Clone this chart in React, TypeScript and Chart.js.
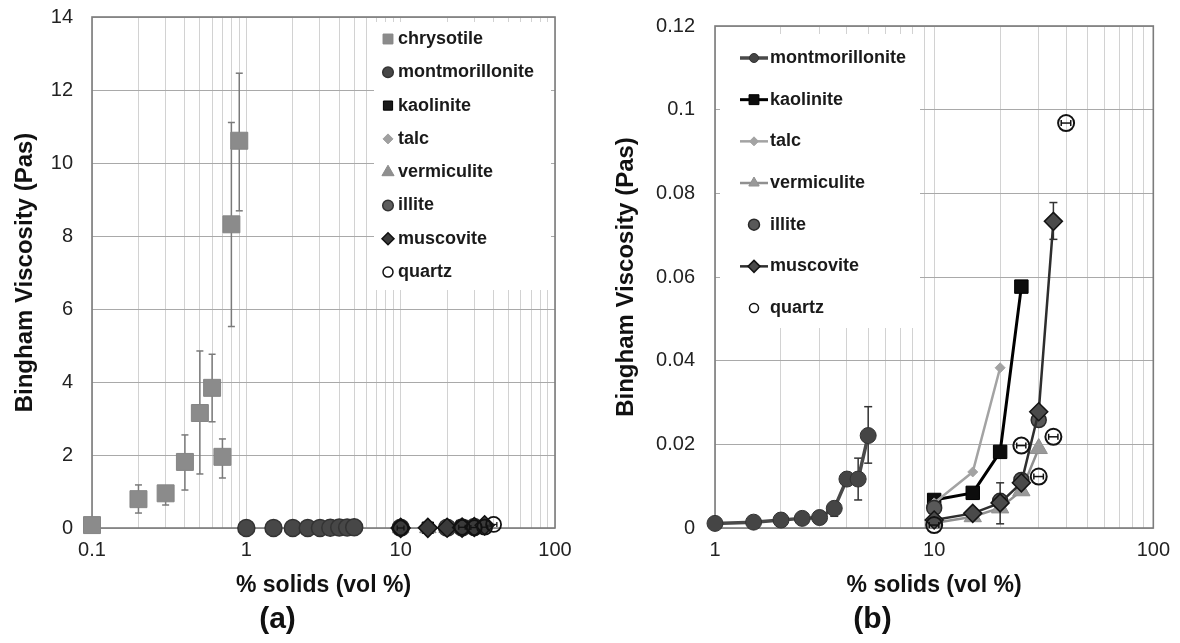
import React, { useEffect, useRef } from 'react';
import { Chart, registerables } from 'chart.js';
import { drawPoint } from 'chart.js/helpers';

Chart.register(...registerables);

const FONT = "'Liberation Sans', Arial, Helvetica, sans-serif";
Chart.defaults.font.family = FONT;

// ---- Measured Bingham viscosity (Pa·s) against solids loading (vol %) ----
const CHRYSOTILE_X = [0.1, 0.2, 0.3, 0.4, 0.5, 0.6, 0.7, 0.8, 0.9];
const CHRYSOTILE_Y = [0.08, 0.79, 0.95, 1.81, 3.15, 3.84, 1.95, 8.32, 10.61];
const CHRYSOTILE_LO = [null, 0.41, 0.63, 1.04, 1.48, 2.91, 1.37, 5.52, 8.69];
const CHRYSOTILE_HI = [null, 1.18, 1.0, 2.55, 4.85, 4.76, 2.44, 11.11, 12.46];

const MONT_X = [1, 1.5, 2, 2.5, 3, 3.5, 4, 4.5, 5];
const MONT_Y = [0.0011, 0.0014, 0.0019, 0.0023, 0.0025, 0.0047, 0.0117, 0.0117, 0.0221];
const MONT_LO = [null, null, null, null, null, 0.0028, null, 0.0067, 0.0155];
const MONT_HI = [null, null, null, null, null, 0.0058, null, 0.0167, 0.029];

const KAOL_X = [10, 15, 20, 25];
const KAOL_Y = [0.0067, 0.0084, 0.0182, 0.0577];

const TALC_X = [10, 15, 20];
const TALC_Y = [0.006, 0.0134, 0.0383];

const VERM_X = [10, 15, 20, 25, 30];
const VERM_Y = [0.0012, 0.0027, 0.0048, 0.0089, 0.019];

const ILLITE_X = [10, 20, 25, 30];
const ILLITE_Y = [0.0048, 0.0065, 0.0115, 0.0258];
const ILLITE_LO = [null, 0.001, null, null];
const ILLITE_HI = [null, 0.0108, null, null];

const MUSC_X = [10, 15, 20, 25, 30, 35];
const MUSC_Y = [0.0019, 0.0035, 0.006, 0.0108, 0.0278, 0.0733];
const MUSC_LO = [null, null, null, null, null, 0.069];
const MUSC_HI = [null, null, null, null, null, 0.0778];

const QUARTZ_X = [10, 25, 30, 35, 40];
const QUARTZ_Y = [0.0007, 0.0197, 0.0123, 0.0218, 0.0968];
const QUARTZ_XLO = [9.5, 23.8, 28.5, 33.3, 38];
const QUARTZ_XHI = [10.5, 26.2, 31.5, 36.7, 42];

// ---- Axis ticks ----
const X_GRID_A = [0.1, 0.2, 0.3, 0.4, 0.5, 0.6, 0.7, 0.8, 0.9, 1, 2, 3, 4, 5, 6, 7, 8, 9, 10, 20, 30, 40, 50, 60, 70, 80, 90, 100];
const X_LABELS_A = [0.1, 1, 10, 100];
const X_GRID_B = [1, 2, 3, 4, 5, 6, 7, 8, 9, 10, 20, 30, 40, 50, 60, 70, 80, 90, 100];
const X_LABELS_B = [1, 10, 100];
const Y_TICKS_A = [0, 2, 4, 6, 8, 10, 12, 14];
const Y_TICKS_B = [0, 0.02, 0.04, 0.06, 0.08, 0.1, 0.12];

type Val = number | null;
type Series = {
  key: string;
  label: string;
  xs: number[];
  ys: number[];
  lo?: Val[];
  hi?: Val[];
  xlo?: number[];
  xhi?: number[];
};

const SERIES: Record<string, Series> = {
  chrysotile: { key: 'chrysotile', label: 'chrysotile', xs: CHRYSOTILE_X, ys: CHRYSOTILE_Y, lo: CHRYSOTILE_LO, hi: CHRYSOTILE_HI },
  montmorillonite: { key: 'montmorillonite', label: 'montmorillonite', xs: MONT_X, ys: MONT_Y, lo: MONT_LO, hi: MONT_HI },
  kaolinite: { key: 'kaolinite', label: 'kaolinite', xs: KAOL_X, ys: KAOL_Y },
  talc: { key: 'talc', label: 'talc', xs: TALC_X, ys: TALC_Y },
  vermiculite: { key: 'vermiculite', label: 'vermiculite', xs: VERM_X, ys: VERM_Y },
  illite: { key: 'illite', label: 'illite', xs: ILLITE_X, ys: ILLITE_Y, lo: ILLITE_LO, hi: ILLITE_HI },
  muscovite: { key: 'muscovite', label: 'muscovite', xs: MUSC_X, ys: MUSC_Y, lo: MUSC_LO, hi: MUSC_HI },
  quartz: { key: 'quartz', label: 'quartz', xs: QUARTZ_X, ys: QUARTZ_Y, xlo: QUARTZ_XLO, xhi: QUARTZ_XHI },
};

const PANEL_A_KEYS = ['chrysotile', 'montmorillonite', 'kaolinite', 'talc', 'vermiculite', 'illite', 'muscovite', 'quartz'];
const PANEL_B_KEYS = ['montmorillonite', 'kaolinite', 'talc', 'vermiculite', 'illite', 'muscovite', 'quartz'];

type MarkStyle = {
  shape: string;
  radius: number;
  fill: string;
  border: string;
  borderWidth: number;
  line?: string;
  lineWidth?: number;
  errColor: string;
  errWidth: number;
  capRadius: number;
  legendRadius: number;
};

const OPEN = 'rgba(255,255,255,0)';

const STYLE_A: Record<string, MarkStyle> = {
  chrysotile: { shape: 'rect', radius: 12, fill: '#8b8b8b', border: '#858585', borderWidth: 1, errColor: '#7a7a7a', errWidth: 1.5, capRadius: 3.5, legendRadius: 7 },
  montmorillonite: { shape: 'circle', radius: 8.5, fill: '#474747', border: '#333333', borderWidth: 1.5, errColor: '#444', errWidth: 1.5, capRadius: 3.5, legendRadius: 5.3 },
  kaolinite: { shape: 'rect', radius: 8, fill: '#1a1a1a', border: '#000000', borderWidth: 1, errColor: '#444', errWidth: 1.5, capRadius: 3.5, legendRadius: 6.5 },
  talc: { shape: 'rectRot', radius: 6, fill: '#a0a0a0', border: '#a0a0a0', borderWidth: 1, errColor: '#444', errWidth: 1.5, capRadius: 3.5, legendRadius: 5 },
  vermiculite: { shape: 'triangle', radius: 9.5, fill: '#8f8f8f', border: '#8a8a8a', borderWidth: 1, errColor: '#444', errWidth: 1.5, capRadius: 3.5, legendRadius: 7 },
  illite: { shape: 'circle', radius: 8.5, fill: '#5e5e5e', border: '#333333', borderWidth: 1.5, errColor: '#444', errWidth: 1.5, capRadius: 3.5, legendRadius: 5.3 },
  muscovite: { shape: 'rectRot', radius: 9.5, fill: '#3a3a3a', border: '#111111', borderWidth: 1.5, errColor: '#444', errWidth: 1.5, capRadius: 3.5, legendRadius: 6 },
  quartz: { shape: 'circle', radius: 7.5, fill: OPEN, border: '#111111', borderWidth: 1.8, errColor: '#111', errWidth: 1.3, capRadius: 2.5, legendRadius: 5 },
};

const STYLE_B: Record<string, MarkStyle> = {
  montmorillonite: { shape: 'circle', radius: 8, fill: '#454545', border: '#333333', borderWidth: 1, line: '#4a4a4a', lineWidth: 3.5, errColor: '#333', errWidth: 1.5, capRadius: 4, legendRadius: 4.5 },
  kaolinite: { shape: 'rect', radius: 9.5, fill: '#0d0d0d', border: '#000000', borderWidth: 1, line: '#000000', lineWidth: 3, errColor: '#333', errWidth: 1.5, capRadius: 4, legendRadius: 7 },
  talc: { shape: 'rectRot', radius: 5, fill: '#a3a3a3', border: '#a3a3a3', borderWidth: 1, line: '#a3a3a3', lineWidth: 2.5, errColor: '#333', errWidth: 1.5, capRadius: 4, legendRadius: 4.5 },
  vermiculite: { shape: 'triangle', radius: 10, fill: '#999999', border: '#909090', borderWidth: 1, line: '#909090', lineWidth: 2.5, errColor: '#333', errWidth: 1.5, capRadius: 4, legendRadius: 6 },
  illite: { shape: 'circle', radius: 7.5, fill: '#595959', border: '#2a2a2a', borderWidth: 1.5, errColor: '#333', errWidth: 1.5, capRadius: 4, legendRadius: 5.5 },
  muscovite: { shape: 'rectRot', radius: 9, fill: '#4a4a4a', border: '#141414', borderWidth: 1.5, line: '#2e2e2e', lineWidth: 2.5, errColor: '#333', errWidth: 1.5, capRadius: 4, legendRadius: 6 },
  quartz: { shape: 'circle', radius: 8, fill: OPEN, border: '#111111', borderWidth: 2, errColor: '#111', errWidth: 1.5, capRadius: 3, legendRadius: 4.5 },
};

// Each series is stacked above the previous one; its error bars sit just beneath it.
function buildDatasets(keys: string[], styles: Record<string, MarkStyle>) {
  const out: any[] = [];
  keys.forEach((key, i) => {
    const s = SERIES[key];
    const st = styles[key];
    const base = 100 - 3 * i;
    out.push({
      label: s.label,
      data: s.xs.map((x, j) => ({ x, y: s.ys[j] })),
      showLine: !!st.line,
      borderColor: st.line ?? st.border,
      borderWidth: st.lineWidth ?? 0,
      tension: 0,
      pointStyle: st.shape,
      pointRadius: st.radius,
      pointHoverRadius: st.radius,
      pointBackgroundColor: st.fill,
      pointBorderColor: st.border,
      pointBorderWidth: st.borderWidth,
      clip: false,
      order: base - 1,
    });
    if (s.lo && s.hi) {
      s.xs.forEach((x, j) => {
        const lo = s.lo![j];
        const hi = s.hi![j];
        if (lo == null || hi == null) return;
        out.push({
          label: '',
          data: [{ x, y: lo }, { x, y: hi }],
          showLine: true,
          borderColor: st.errColor,
          borderWidth: st.errWidth,
          pointStyle: 'line',
          pointRadius: st.capRadius,
          pointHoverRadius: st.capRadius,
          pointBorderColor: st.errColor,
          pointBorderWidth: st.errWidth,
          clip: false,
          order: base,
        });
      });
    }
    if (s.xlo && s.xhi) {
      s.xs.forEach((_x, j) => {
        const y = s.ys[j];
        out.push({
          label: '',
          data: [{ x: s.xlo![j], y }, { x: s.xhi![j], y }],
          showLine: true,
          borderColor: st.errColor,
          borderWidth: st.errWidth,
          pointStyle: 'line',
          pointRotation: 90,
          pointRadius: st.capRadius,
          pointHoverRadius: st.capRadius,
          pointBorderColor: st.errColor,
          pointBorderWidth: st.errWidth,
          clip: false,
          order: base - 2,
        });
      });
    }
  });
  return out;
}

// Plot-area outline, drawn over the grid but under the markers.
function framePlugin(color: string, width: number) {
  return {
    id: 'frame',
    beforeDatasetsDraw(chart: any) {
      const { ctx, chartArea: a } = chart;
      ctx.save();
      ctx.strokeStyle = color;
      ctx.lineWidth = width;
      ctx.strokeRect(a.left, a.top, a.right - a.left, a.bottom - a.top);
      ctx.restore();
    },
  };
}

type LegendBox = {
  left: number;
  top: number;
  right: number;
  bottom: number;
  markerX: number;
  textX: number;
  firstRow: number;
  rowGap: number;
  lineHalf: number;
  fontSize: number;
};

// White legend panel inside the plot area, listing the series with their markers.
function legendPlugin(keys: string[], styles: Record<string, MarkStyle>, box: LegendBox, withLines: boolean) {
  return {
    id: 'boxLegend',
    afterDatasetsDraw(chart: any) {
      const { ctx } = chart;
      ctx.save();
      ctx.fillStyle = '#ffffff';
      ctx.fillRect(box.left, box.top, box.right - box.left, box.bottom - box.top);
      keys.forEach((key, i) => {
        const st = styles[key];
        const y = box.firstRow + i * box.rowGap;
        if (withLines && st.line) {
          ctx.strokeStyle = st.line;
          ctx.lineWidth = st.lineWidth ?? 2;
          ctx.beginPath();
          ctx.moveTo(box.markerX - box.lineHalf, y);
          ctx.lineTo(box.markerX + box.lineHalf, y);
          ctx.stroke();
        }
        ctx.fillStyle = st.fill;
        ctx.strokeStyle = st.border;
        ctx.lineWidth = Math.min(st.borderWidth, 1.5);
        drawPoint(ctx, { pointStyle: st.shape as any, rotation: 0, radius: st.legendRadius, borderWidth: Math.min(st.borderWidth, 1.5) }, box.markerX, y);
        ctx.fillStyle = '#1a1a1a';
        ctx.font = `bold ${box.fontSize}px ${FONT}`;
        ctx.textAlign = 'left';
        ctx.textBaseline = 'middle';
        ctx.fillText(SERIES[key].label, box.textX, y);
      });
      ctx.restore();
    },
  };
}

function logAxis(grid: number[], labels: number[], min: number, max: number, height: number) {
  return {
    type: 'logarithmic',
    min,
    max,
    afterBuildTicks: (scale: any) => {
      scale.ticks = grid.map((v) => ({ value: v }));
    },
    afterFit: (scale: any) => {
      scale.height = height;
    },
    ticks: {
      autoSkip: false,
      maxRotation: 0,
      minRotation: 0,
      padding: 10,
      color: '#222',
      font: { size: 20 },
      callback: (v: any) => (labels.includes(Number(v)) ? String(v) : ''),
    },
    grid: { color: '#d2d2d2', lineWidth: 1, drawTicks: false },
    border: { display: false },
    title: {
      display: true,
      text: '% solids (vol %)',
      color: '#111',
      font: { size: 23, weight: 'bold' },
      padding: { top: 0, bottom: 3 },
    },
  };
}

function linAxis(ticks: number[], max: number, width: number, pad: number, titlePad: number) {
  return {
    type: 'linear',
    min: 0,
    max,
    afterBuildTicks: (scale: any) => {
      scale.ticks = ticks.map((v) => ({ value: v }));
    },
    afterFit: (scale: any) => {
      scale.width = width;
      // the plot-area top is set by the layout padding alone
      scale.paddingTop = 0;
      scale.paddingBottom = 0;
    },
    ticks: {
      padding: pad,
      color: '#222',
      font: { size: 20 },
      callback: (v: any) => String(v),
    },
    grid: { color: '#a9a9a9', lineWidth: 1, drawTicks: false },
    border: { display: false },
    title: {
      display: true,
      text: 'Bingham Viscosity (Pas)',
      color: '#111',
      font: { size: 24, weight: 'bold' },
      padding: { top: titlePad, bottom: 0 },
    },
  };
}

function baseOptions(padding: any, caption: string) {
  return {
    animation: false,
    responsive: false,
    devicePixelRatio: 1,
    events: [],
    layout: { padding },
    plugins: {
      legend: { display: false },
      tooltip: { enabled: false },
      title: {
        display: true,
        text: caption,
        position: 'bottom',
        color: '#111',
        font: { size: 30, weight: 'bold' },
        padding: 0,
      },
    },
  };
}

const W = 590;
const H = 643;

export default function App() {
  const refA = useRef<HTMLCanvasElement | null>(null);
  const refB = useRef<HTMLCanvasElement | null>(null);

  useEffect(() => {
    const chartA = new Chart(refA.current as HTMLCanvasElement, {
      type: 'scatter',
      data: { datasets: buildDatasets(PANEL_A_KEYS, STYLE_A) },
      options: {
        ...baseOptions({ left: 0, right: 35, top: 17, bottom: 5 }, '(a)'),
        scales: {
          x: logAxis(X_GRID_A, X_LABELS_A, 0.1, 100, 74),
          y: linAxis(Y_TICKS_A, 14, 92, 19, 10.6),
        },
      } as any,
      plugins: [
        framePlugin('#7c7c7c', 1.6),
        legendPlugin(PANEL_A_KEYS, STYLE_A, {
          left: 374, top: 22, right: 551, bottom: 290,
          markerX: 388, textX: 398, firstRow: 39, rowGap: 33.3, lineHalf: 0, fontSize: 18,
        }, false),
      ],
    });

    const chartB = new Chart(refB.current as HTMLCanvasElement, {
      type: 'scatter',
      data: { datasets: buildDatasets(PANEL_B_KEYS, STYLE_B) },
      options: {
        ...baseOptions({ left: 0, right: 25, top: 26, bottom: 5 }, '(b)'),
        scales: {
          x: logAxis(X_GRID_B, X_LABELS_B, 1, 100, 74),
          y: linAxis(Y_TICKS_B, 0.12, 125, 20, 21.6),
        },
      } as any,
      plugins: [
        framePlugin('#7c7c7c', 1.6),
        legendPlugin(PANEL_B_KEYS, STYLE_B, {
          left: 130, top: 34, right: 330, bottom: 328,
          markerX: 164, textX: 180, firstRow: 58, rowGap: 41.67, lineHalf: 14, fontSize: 18,
        }, true),
      ],
    });

    return () => {
      chartA.destroy();
      chartB.destroy();
    };
  }, []);

  return (
    <div style={{ position: 'absolute', left: 0, top: 0, width: 2 * W, height: H, background: '#ffffff' }}>
      <canvas ref={refA} width={W} height={H} style={{ position: 'absolute', left: 0, top: 0, display: 'block' }} />
      <canvas ref={refB} width={W} height={H} style={{ position: 'absolute', left: W, top: 0, display: 'block' }} />
    </div>
  );
}
